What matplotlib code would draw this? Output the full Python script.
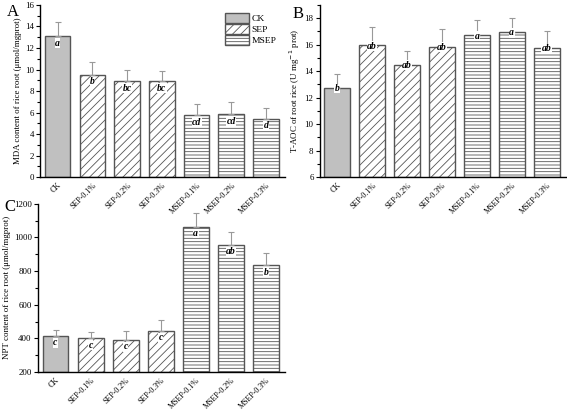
import numpy as np
import matplotlib
matplotlib.use("Agg")
import matplotlib.pyplot as plt
from matplotlib.patches import Patch
from matplotlib.ticker import AutoMinorLocator

plt.rcParams['font.family'] = ['Liberation Serif', 'DejaVu Serif']
plt.rcParams['hatch.linewidth'] = 0.6

# data
treatments = ["CK", "SEP-0.1%", "SEP-0.2%", "SEP-0.3%", "MSEP-0.1%", "MSEP-0.2%", "MSEP-0.3%"]
groups = ["CK", "SEP", "SEP", "SEP", "MSEP", "MSEP", "MSEP"]

mda = [13.1, 9.5, 8.9, 8.9, 5.75, 5.85, 5.4]
mda_err = [1.35, 1.2, 1.1, 1.0, 1.0, 1.1, 1.0]
mda_letters = ["a", "b", "bc", "bc", "cd", "cd", "d"]

taoc = [12.75, 15.95, 14.5, 15.85, 16.7, 16.95, 15.75]
taoc_err = [1.0, 1.35, 1.05, 1.3, 1.2, 1.1, 1.25]
taoc_letters = ["b", "ab", "ab", "ab", "a", "a", "ab"]

npt = [415, 400, 390, 445, 1065, 955, 835]
npt_err = [35, 40, 55, 65, 80, 75, 70]
npt_letters = ["c", "c", "c", "c", "a", "ab", "b"]

styles = {
    "CK": dict(facecolor="#c0c0c0", hatch=None),
    "SEP": dict(facecolor="white", hatch="////"),
    "MSEP": dict(facecolor="white", hatch="-----"),
}
edge = "#555555"


def panel(ax, values, errs, letters, ylim, yticks, ylabel, letter_offset):
    x = np.arange(len(treatments))
    for i, (v, g) in enumerate(zip(values, groups)):
        ax.bar(x[i], v - ylim[0], bottom=ylim[0], width=0.74, edgecolor=edge,
               linewidth=1.0, **styles[g])
    ax.errorbar(x, values, yerr=[np.zeros(len(values)), errs], fmt="none",
                ecolor="#999999", elinewidth=0.8, capsize=2.5, capthick=0.8)
    for i, (v, t) in enumerate(zip(values, letters)):
        ax.annotate(t, (x[i], v), xytext=(0, letter_offset), textcoords="offset points",
                    ha="center", va="center", fontsize=7, style="italic", fontweight="bold",
                    bbox=dict(facecolor="white", edgecolor="none", pad=0.3))
    ax.set_xlim(-0.5, 6.55)
    ax.set_ylim(*ylim)
    ax.set_yticks(yticks)
    ax.yaxis.set_minor_locator(AutoMinorLocator(2))
    ax.set_xticks(x)
    ax.set_xticklabels(treatments, rotation=45, ha="right", va="top",
                       rotation_mode="anchor", fontsize=5.8)
    ax.tick_params(axis="x", length=0, pad=3)
    ax.tick_params(axis="y", labelsize=6.4, length=3, width=0.8, pad=1.5)
    ax.tick_params(axis="y", which="minor", length=2, width=0.8)
    ax.set_ylabel(ylabel, fontsize=6.4, labelpad=2)
    ax.patch.set_visible(False)
    for s in ["top", "right"]:
        ax.spines[s].set_visible(False)
    for s in ["left", "bottom"]:
        ax.spines[s].set_linewidth(1.0)


fig = plt.figure(figsize=(5.67, 4.11), dpi=100)
axA = fig.add_axes([0.071, 0.569, 0.432, 0.419])
axB = fig.add_axes([0.564, 0.569, 0.434, 0.419])
axC = fig.add_axes([0.067, 0.095, 0.436, 0.409])
axA.set_zorder(3)

panel(axA, mda, mda_err, mda_letters, (0, 16), np.arange(0, 17, 2),
      "MDA content of rice root (\u03bcmol/mgprot)", -5)
panel(axB, taoc, taoc_err, taoc_letters, (6, 19), np.arange(6, 19, 2),
      "T-AOC of root rice (U mg$^{-1}$ prot)", -0.5)
panel(axC, npt, npt_err, npt_letters, (200, 1200), np.arange(200, 1201, 200),
      "NPT content of rice root (\u03bcmol/mgprot)", -5)

handles = [Patch(edgecolor=edge, linewidth=1.0, **styles[g]) for g in ["CK", "SEP", "MSEP"]]
axA.legend(handles, ["CK", "SEP", "MSEP"], loc="upper right", bbox_to_anchor=(0.99, 0.99),
           frameon=False, fontsize=6.8, handlelength=2.6, handleheight=1.2,
           handletextpad=0.2, labelspacing=0.1, borderpad=0.2)

fig.text(0.012, 0.972, "A", fontsize=12, va="center")
fig.text(0.516, 0.965, "B", fontsize=12, va="center")
fig.text(0.008, 0.497, "C", fontsize=12, va="center")

fig.savefig("out.png", dpi=100)
